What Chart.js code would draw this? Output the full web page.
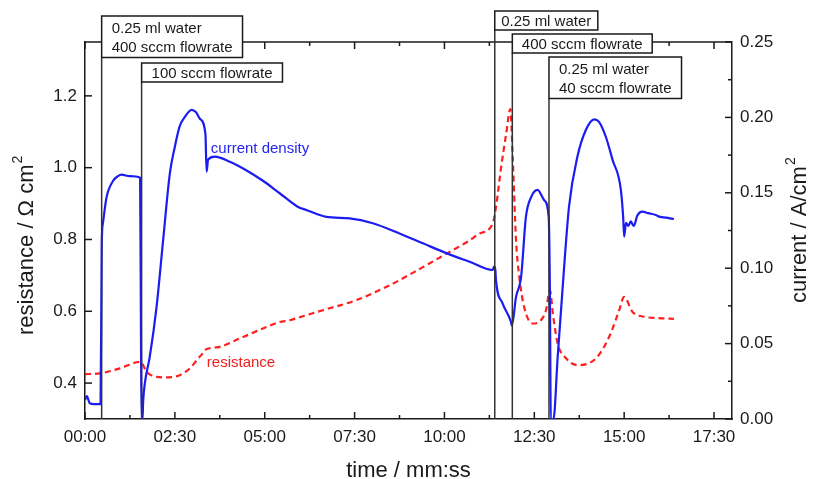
<!DOCTYPE html>
<html lang="en">
<head>
<meta charset="UTF-8">
<title>Resistance and current density vs time</title>
<script src="https://cdn.jsdelivr.net/npm/chart.js"></script>
<style>
  html, body { margin: 0; padding: 0; background: #fff; }
  #chart { display: block; }
</style>
</head>
<body>
<canvas id="chart" width="813" height="479"></canvas>
<script>
  // time in seconds, current density in A/cm2 (right axis)
  const currentTime = [0, 3, 8, 15, 26, 28, 30, 36, 47, 55, 61, 75, 92, 93.5, 94.5, 96, 97, 100, 108, 119.5,
    130.5, 141.7, 150, 158, 167, 178, 185, 192, 201, 203, 205.5, 216.7, 241.7, 269, 297, 325, 355, 369.5,
    402.8, 441.7, 480.5, 525, 564, 603, 642, 680.5, 683, 685, 686, 697, 711, 712.5, 719.5, 728, 736, 744.5,
    755.5, 766.7, 774, 776, 777.5, 782, 789, 797, 808, 822, 836, 850, 858, 869.5, 880.5, 894.5, 898.3, 900,
    903, 907, 911, 916, 922, 930.5, 940, 952.8, 960, 969.5, 983];
  const currentDensity = [0.0126, 0.0152, 0.0104, 0.0099, 0.0099, 0.117, 0.130, 0.147, 0.158, 0.161, 0.162,
    0.161, 0.160, 0.050, 0.0, 0.0, 0.011, 0.024, 0.041, 0.0745,
    0.119, 0.163, 0.1806, 0.194, 0.2005, 0.205, 0.2035, 0.199, 0.189, 0.164, 0.172, 0.174, 0.1706, 0.165,
    0.158, 0.1497, 0.1408, 0.1386,
    0.134, 0.133, 0.1298, 0.123, 0.1165, 0.110, 0.1043, 0.0988, 0.101, 0.0988, 0.092, 0.0767, 0.0645, 0.062,
    0.081, 0.0944, 0.134, 0.147,
    0.152, 0.145, 0.134, 0.0855, 0.0, 0.0, 0.041, 0.0855, 0.141, 0.174, 0.1916, 0.1987, 0.197, 0.187, 0.172,
    0.152, 0.134, 0.121,
    0.130, 0.128, 0.131, 0.128, 0.135, 0.1375, 0.1365, 0.1353, 0.134, 0.1335, 0.1326];

  // resistance in ohm cm2 (left axis)
  const resistanceTime = [0, 25, 58, 92, 94, 103, 119.5, 136, 158, 175, 189, 195, 200, 225, 258, 297, 325,
    341.7, 355.5, 397, 452.8, 508, 564, 603, 641.7, 658, 680.5, 686, 694.5, 703, 710, 714, 719.5, 725, 733,
    747, 761, 769.5, 776, 781.7, 789, 803, 822, 853, 875, 891.7, 900, 914, 936, 958, 983];
  const resistanceValues = [0.425, 0.427, 0.441, 0.459, 0.458, 0.431, 0.4175, 0.416, 0.422, 0.441, 0.469,
    0.480, 0.492, 0.501, 0.524, 0.552, 0.570,
    0.575, 0.582, 0.603, 0.631, 0.672, 0.723, 0.760, 0.797, 0.816, 0.844, 0.890, 1.000, 1.094, 1.163, 1.029,
    0.797, 0.695, 0.612,
    0.566, 0.575, 0.603, 0.658, 0.584, 0.510, 0.469, 0.450, 0.469, 0.529, 0.603, 0.640, 0.598, 0.584, 0.581,
    0.579];

  // tick values
  const timeTicks = [0, 150, 300, 450, 600, 750, 900, 1050];
  const resistanceTicks = [0.4, 0.6, 0.8, 1.0, 1.2];
  const currentTicks = [0, 0.05, 0.1, 0.15, 0.2, 0.25];

  // events marked by vertical lines
  const eventTimes = [27.8, 94.5, 684, 713.3, 774.5];
  const eventLabels = [
    ['0.25 ml water', '400 sccm flowrate'],
    ['100 sccm flowrate'],
    ['0.25 ml water'],
    ['400 sccm flowrate'],
    ['0.25 ml water', '40 sccm flowrate']
  ];
  // box top in px and inner padding
  const eventBoxTop = [16, 63, 11, 34, 57];
  const eventBoxPad = [10, 10, 6.5, 9.5, 10];

  const FONT = '"Liberation Sans", Arial, sans-serif';
  const INK = '#1a1a1a';

  function mmss(v) {
    const m = Math.floor(v / 60), s = Math.round(v % 60);
    return String(m).padStart(2, '0') + ':' + String(s).padStart(2, '0');
  }

  function line(ctx, x1, y1, x2, y2) {
    ctx.beginPath();
    ctx.moveTo(x1, y1);
    ctx.lineTo(x2, y2);
    ctx.stroke();
  }

  // ticks pointing inward, top border, event boxes, labels, axis titles
  const decorations = {
    id: 'decorations',
    afterDatasetsDraw(chart) {
      const { ctx, chartArea: a, scales: { x, y, y2 } } = chart;
      ctx.save();
      ctx.fillStyle = '#2424f0';
      ctx.font = '15px ' + FONT;
      ctx.textAlign = 'left';
      ctx.textBaseline = 'alphabetic';
      ctx.fillText('current density', x.getPixelForValue(210), y2.getPixelForValue(0.1764));
      ctx.fillStyle = '#f02020';
      ctx.fillText('resistance', x.getPixelForValue(203.3), y.getPixelForValue(0.445));
      ctx.restore();
    },
    afterDraw(chart) {
      const { ctx, chartArea: a, scales: { x, y, y2 } } = chart;
      ctx.save();
      ctx.strokeStyle = INK;
      ctx.lineWidth = 1.5;
      line(ctx, a.left, a.top, a.right, a.top);

      for (let t = 0; t <= 1080; t += 75) {
        const px = x.getPixelForValue(t);
        const len = t % 150 === 0 ? 7 : 4;
        line(ctx, px, a.bottom, px, a.bottom - len);
        line(ctx, px, a.top, px, a.top + len);
      }
      resistanceTicks.forEach(v => {
        const py = y.getPixelForValue(v);
        line(ctx, a.left, py, a.left + 7, py);
      });
      for (let i = 0; i <= 10; i++) {
        const v = i * 0.025;
        const py = y2.getPixelForValue(v);
        line(ctx, a.right, py, a.right - (i % 2 === 0 ? 7 : 4), py);
      }

      // event lines and boxes
      ctx.font = '15px ' + FONT;
      ctx.textBaseline = 'alphabetic';
      ctx.textAlign = 'left';
      eventTimes.forEach((t, i) => {
        const px = x.getPixelForValue(t);
        const lines = eventLabels[i];
        const pad = eventBoxPad[i];
        const h = 19 + 22.5 * (lines.length - 1);
        const top = eventBoxTop[i];
        const w = Math.max(...lines.map(s => ctx.measureText(s).width)) + 2 * pad;
        ctx.strokeStyle = '#333';
        ctx.lineWidth = 1.5;
        line(ctx, px, top + h, px, a.bottom);
        ctx.fillStyle = '#fff';
        ctx.fillRect(px, top, w, h);
        ctx.strokeStyle = INK;
        ctx.strokeRect(px, top, w, h);
        ctx.fillStyle = INK;
        const first = top + (h - 19 * lines.length) / 2 + 15;
        lines.forEach((s, k) => ctx.fillText(s, px + pad, first + 19 * k));
      });

      // axis titles
      ctx.fillStyle = INK;
      const titleFont = '22px ' + FONT;
      const supFont = '14px ' + FONT;

      ctx.font = titleFont;
      ctx.textAlign = 'center';
      ctx.fillText('time / mm:ss', (a.left + a.right) / 2, 477);

      const vertical = (text, bx, by) => {
        ctx.save();
        ctx.translate(bx, by);
        ctx.rotate(-Math.PI / 2);
        ctx.textAlign = 'left';
        ctx.font = titleFont;
        ctx.fillText(text, 0, 0);
        const w = ctx.measureText(text).width;
        ctx.font = supFont;
        ctx.fillText('2', w + 1, -11);
        ctx.restore();
      };
      vertical('resistance / \u03A9 cm', 33, 335);
      vertical('current / A/cm', 806, 303);
      ctx.restore();
    }
  };

  const tickFont = { family: FONT, size: 17 };

  new Chart(document.getElementById('chart'), {
    type: 'line',
    data: {
      datasets: [
        {
          label: 'current density',
          data: currentTime.map((t, i) => ({ x: t, y: currentDensity[i] })),
          yAxisID: 'y2',
          borderColor: '#1c1cf2',
          borderWidth: 2.2,
          pointRadius: 0,
          cubicInterpolationMode: 'monotone'
        },
        {
          label: 'resistance',
          data: resistanceTime.map((t, i) => ({ x: t, y: resistanceValues[i] })),
          yAxisID: 'y',
          borderColor: '#ff1f1f',
          borderWidth: 2.2,
          borderDash: [6, 4],
          pointRadius: 0,
          cubicInterpolationMode: 'monotone'
        }
      ]
    },
    options: {
      responsive: false,
      animation: false,
      devicePixelRatio: 1,
      layout: { padding: { top: 42, left: 0, right: 0, bottom: 0 } },
      plugins: { legend: { display: false }, tooltip: { enabled: false } },
      scales: {
        x: {
          type: 'linear',
          position: 'bottom',
          min: 0,
          max: 1080,
          afterBuildTicks: s => { s.ticks = timeTicks.map(v => ({ value: v })); },
          afterFit: s => { s.height = 60; },
          ticks: { font: tickFont, color: INK, padding: 8, maxRotation: 0, autoSkip: false, callback: v => mmss(v) },
          grid: { display: false, drawTicks: false },
          border: { color: INK, width: 1.5 }
        },
        y: {
          position: 'left',
          min: 0.3,
          max: 1.35,
          afterBuildTicks: s => { s.ticks = resistanceTicks.map(v => ({ value: v })); },
          afterFit: s => { s.width = 85; },
          ticks: { font: tickFont, color: INK, padding: 8, callback: v => v.toFixed(1) },
          grid: { display: false, drawTicks: false },
          border: { color: INK, width: 1.5 }
        },
        y2: {
          position: 'right',
          min: 0,
          max: 0.25,
          afterBuildTicks: s => { s.ticks = currentTicks.map(v => ({ value: v })); },
          afterFit: s => { s.width = 81; },
          ticks: { font: tickFont, color: INK, padding: 8, callback: v => v.toFixed(2) },
          grid: { display: false, drawTicks: false },
          border: { color: INK, width: 1.5 }
        }
      }
    },
    plugins: [decorations]
  });
</script>
</body>
</html>
